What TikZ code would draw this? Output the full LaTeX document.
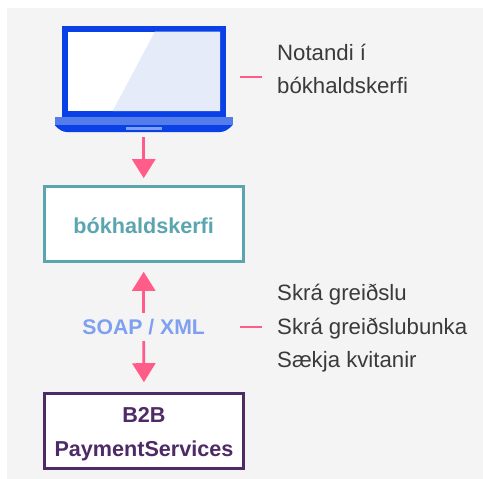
\documentclass[tikz,border=0pt]{standalone}
\usepackage{fontspec}
\setmainfont{Liberation Sans}
\usepackage{tikz}
\usetikzlibrary{arrows.meta}
\definecolor{bggray}{HTML}{F4F4F4}
\definecolor{laptopblue}{HTML}{0A41E6}
\definecolor{laptoplight}{HTML}{547DEB}
\definecolor{glare}{HTML}{E6EBFA}
\definecolor{arrowpink}{HTML}{FF5C8A}
\definecolor{boxteal}{HTML}{5AA5B0}
\definecolor{boxpurple}{HTML}{4E2A67}
\definecolor{soapblue}{HTML}{7F9FF0}
\definecolor{textgray}{HTML}{3A3A3A}
\tikzset{
  flowarrow/.style={arrowpink,line width=2.8pt,-{Triangle[length=19pt,width=23pt]}},
  tickline/.style={arrowpink,line width=2.8pt},
  sidetext/.style={anchor=base west,inner sep=0pt,text=textgray,font=\fontsize{22.2}{22}\selectfont},
  boxnode/.style={fill=white,line width=2.6pt,minimum width=199pt,minimum height=75pt,inner sep=0pt,align=center}
}
\begin{document}
\begin{tikzpicture}[x=1pt,y=-1pt]
\useasboundingbox (0,0) rectangle (483,479);
\fill[bggray] (7,8) rectangle (483,479);
% laptop
\fill[laptopblue] (62,26) rectangle (225.5,117);
\fill[white] (67.5,31.5) rectangle (220,111);
\fill[glare] (155,31.5) -- (220,31.5) -- (220,111) -- (112.7,111) -- cycle;
\fill[laptopblue] (54.5,125) -- (232.7,125) .. controls (228,130) and (224,132) .. (220,132) -- (67,132) .. controls (63,132) and (59,130) .. (54.5,125) -- cycle;
\fill[laptoplight] (54.5,116.7) rectangle (232.7,125);
\fill[soapblue] (125.7,127) rectangle (161.7,129.7);
\node (laptop) at (143.7,85) [minimum width=178pt,minimum height=104pt,inner sep=0pt] {};
% boxes
\node (bokhald) at (143.7,224) [boxnode,draw=boxteal,text=boxteal,font=\fontsize{21.6}{22}\selectfont\bfseries] {\rule{0pt}{19pt}bókhaldskerfi};
\node (btob) at (144,431) [boxnode,draw=boxpurple,text=boxpurple,font=\fontsize{21.6}{34}\selectfont\bfseries] {\rule{0pt}{22pt}B2B\\PaymentServices};
\node (soap) at (143.7,327) [text=soapblue,inner sep=0pt,minimum height=28pt,font=\fontsize{21.2}{22}\selectfont\bfseries] {SOAP / XML};
% arrows
\draw[flowarrow,shorten >=7pt] (laptop.south) -- (bokhald.north);
\draw[flowarrow,shorten >=9pt] (soap.north) -- (bokhald.south);
\draw[flowarrow,shorten >=10pt] (soap.south) -- (btob.north);
% side labels
\coordinate (tickA) at (240,77);
\coordinate (tickAend) at (262,77);
\coordinate (tickB) at (240,327);
\coordinate (tickBend) at (262,327);
\draw[tickline] (tickA) -- (tickAend);
\draw[tickline] (tickB) -- (tickBend);
\node (notandi) at (277,60.7) [sidetext] {Notandi í};
\node (kerfi) at (277,93.3) [sidetext] {bókhaldskerfi};
\node (skra) at (277,300) [sidetext] {Skrá greiðslu};
\node (bunki) at (277,334) [sidetext] {Skrá greiðslubunka};
\node (saekja) at (277,367.3) [sidetext] {Sækja kvitanir};
\end{tikzpicture}
\end{document}
